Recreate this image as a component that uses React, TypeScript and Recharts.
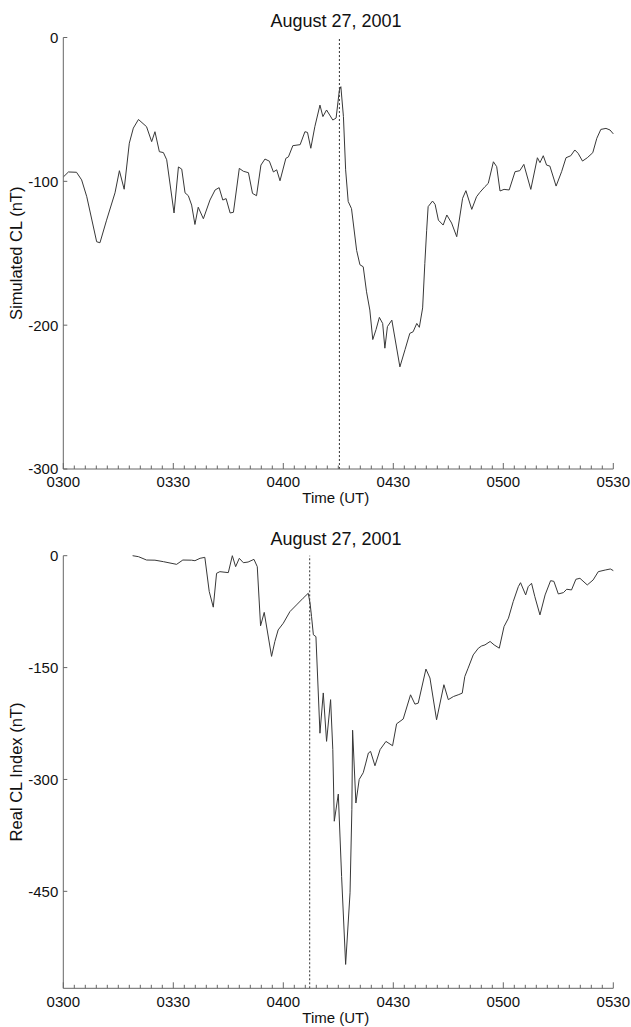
import React from "react";
import { LineChart, Line, XAxis, YAxis, ReferenceLine } from "recharts";

// time in minutes after 0300 UT
const simTime = [
  0, 1.4, 3.6, 5.0, 6.4, 9.1, 10.0, 11.8, 14.1, 15.3, 16.6, 18.0, 19.1, 20.5,
  22.7, 24.1, 25.0, 26.2, 27.3, 28.2, 30.2, 31.4, 32.3, 33.2, 34.1, 35.0, 35.9,
  36.8, 38.2, 40.0, 41.4, 42.5, 43.5, 44.4, 45.5, 46.4, 48.0, 49.1, 50.5, 51.6,
  52.7, 53.9, 55.0, 56.2, 57.3, 58.2, 59.1, 60.7, 61.4, 62.6, 64.6, 65.9, 66.6,
  67.5, 68.6, 70.0, 70.8, 71.8, 73.5, 74.4, 75.3, 75.7, 76.4, 77.0, 77.7, 78.6,
  80.0, 80.9, 81.8, 82.7, 83.6, 84.4, 85.3, 86.2, 87.1, 87.7, 88.4, 89.6, 91.8,
  93.2, 94.5, 95.4, 96.4, 97.1, 98.0, 98.6, 99.1, 99.5, 100.7, 101.4, 102.3,
  103.6, 104.6, 105.9, 107.3, 108.9, 109.8, 111.4, 112.7, 113.6, 115.0, 115.9,
  117.3, 118.2, 119.1, 120.2, 121.6, 123.2, 124.5, 125.6, 127.5, 129.3, 130.0,
  130.9, 131.8, 132.7, 134.4, 135.9, 137.1, 138.4, 139.5, 140.4, 141.6, 142.9,
  144.4, 145.5, 146.6, 148.0, 149.1, 150.0,
];
const simCL = [
  -97, -93.5, -93.7, -99, -110.7, -142, -142.7, -127, -108, -92.6, -105.5,
  -73.5, -63, -57, -62, -72.4, -65.5, -79.4, -80, -85, -122, -90, -91.5, -108,
  -110, -116.5, -130, -118, -126, -113, -106, -104.4, -113, -112, -122, -121.5,
  -91, -93, -94, -108.4, -110, -88.7, -84.5, -86, -93.5, -92, -99.6, -84, -83,
  -75.2, -74.5, -65.5, -66, -77, -62, -47, -55, -50.4, -57.4, -56, -36.5,
  -34.2, -55, -92, -114, -119, -148, -158, -159.4, -176.8, -189.5, -210, -203,
  -194.6, -198.8, -216, -201, -196.5, -229, -217, -205.7, -204.6, -198.8,
  -201.5, -188, -157, -134, -117.6, -113.7, -116, -127, -130.4, -123.4, -129,
  -138.5, -111.8, -106.5, -119.5, -110.7, -107.7, -103.7, -101.4, -86.4, -89.8,
  -106.7, -105.6, -106, -93.3, -92.6, -88.2, -105.6, -83.6, -87, -82.2, -88.7,
  -89.4, -103.3, -93.3, -83.6, -82.2, -78.2, -80.5, -85.9, -83.6, -80.1, -70.1,
  -63.9, -63.2, -64.3, -67,
];

const realTime = [
  18.9, 20.5, 22.7, 25.0, 27.3, 30.9, 32.6, 35.0, 35.9, 37.3, 38.6, 39.8, 40.9,
  41.8, 42.7, 45.0, 46.1, 47.0, 48.0, 49.1, 50.4, 52.0, 52.9, 53.8, 54.8, 56.8,
  57.7, 58.6, 60.0, 61.8, 63.6, 65.4, 66.8, 67.3, 67.7, 68.2, 68.9, 70.0, 70.9,
  71.8, 72.9, 73.5, 73.9, 75.0, 75.9, 77.0, 78.2, 78.7, 78.9, 79.8, 80.7, 81.8,
  82.5, 83.2, 83.8, 85.0, 86.4, 88.0, 89.8, 90.9, 92.7, 94.7, 95.9, 96.8, 98.9,
  100.0, 101.8, 103.8, 105.0, 106.4, 107.7, 108.8, 109.5, 110.4, 111.8, 113.2,
  114.1, 115.0, 116.4, 117.5, 118.9, 120.2, 121.4, 122.7, 124.1, 124.7, 126.1,
  126.8, 127.7, 128.6, 130.0, 131.4, 132.9, 133.8, 135.0, 136.4, 137.3, 138.6,
  139.8, 140.9, 142.9, 144.5, 145.9, 147.8, 149.2, 150.0,
];
const realCL = [
  0, -1.3, -5.8, -6, -8, -11.6, -5.8, -6, -6.7, -3.5, -2.2, -48, -69, -23.6,
  -21.4, -22.7, 0, -14.7, -3.5, -9.4, -8.5, -4.9, -14.7, -94, -76, -135, -115,
  -99.5, -90.5, -75, -66, -57, -50.4, -63.7, -81.6, -106, -108.5, -238, -184,
  -248.9, -193, -260, -356, -319.6, -430, -548, -452, -340, -234, -331.6, -300,
  -291, -278, -264.6, -262.4, -281.6, -260, -249, -254.8, -225.4, -219, -186.5,
  -199, -197.7, -152, -164, -220, -173, -193, -188.8, -186.5, -184.3, -162,
  -150.8, -133, -124, -121, -119.6, -115, -119.6, -124, -95, -83.8, -61.6,
  -41.5, -36.2, -52.6, -41.5, -37, -54.9, -79.4, -52.6, -33.5, -34.4, -51.3,
  -49.5, -45, -45.9, -31.6, -30.3, -39.2, -32.5, -21.4, -19.2, -17.8, -20,
];

const timeTicks = [0, 30, 60, 90, 120, 150];
const timeLabels = ["0300", "0330", "0400", "0430", "0500", "0530"];
const simTicks = [0, -100, -200, -300];
const realTicks = [0, -150, -300, -450];
const simOnset = 75.3;
const realOnset = 67.2;
const chartTitle = "August 27, 2001";

const minorTicks = Array.from({ length: 51 }, (_, i) => i * 3);

const FONT = "'Liberation Sans', Arial, sans-serif";
const AXIS = "#666";
const INK = "#111";

const XTick = (props: any) => {
  const { x, y, payload } = props;
  const i = timeTicks.indexOf(payload.value);
  const major = i >= 0;
  return (
    <g>
      <line x1={x} x2={x} y1={y} y2={y - (major ? 6 : 3.5)} stroke={AXIS} />
      {major && (
        <text x={x} y={y + 18.3} textAnchor="middle" fontSize={15} fill={INK} fontFamily={FONT}>
          {timeLabels[i]}
        </text>
      )}
    </g>
  );
};

const YTick = (props: any) => {
  const { x, y, payload } = props;
  return (
    <g>
      <line x1={x} x2={x + 4} y1={y} y2={y} stroke={AXIS} />
      <text x={x - 5} y={y} dy="0.36em" textAnchor="end" fontSize={15} fill={INK} fontFamily={FONT}>
        {payload.value}
      </text>
    </g>
  );
};

type PanelProps = {
  time: number[];
  values: number[];
  domain: [number, number];
  yTicks: number[];
  yLabel: string;
  onset: number;
  height: number;
  top: number;
  axisHeight: number;
};

const Panel = ({ time, values, domain, yTicks, yLabel, onset, height, top, axisHeight }: PanelProps) => {
  const data = time.map((t, i) => ({ t, v: values[i] }));
  return (
    <div style={{ position: "relative", width: 631, height }}>
      <svg width={631} height={40} style={{ position: "absolute", left: 0, top: 0 }}>
        <text x={336} y={top - 11} textAnchor="middle" fontSize={18} fill={INK} fontFamily={FONT}>
          {chartTitle}
        </text>
      </svg>
      <LineChart
        width={631}
        height={height}
        data={data}
        margin={{ top, right: 17.7, bottom: 0, left: 0 }}
      >
        <XAxis
          dataKey="t"
          type="number"
          domain={[0, 150]}
          ticks={minorTicks}
          interval={0}
          height={axisHeight}
          tickLine={false}
          tickSize={0}
          tickMargin={0}
          tick={<XTick />}
          stroke={AXIS}
          label={(p: any) => {
            const vb = p.viewBox;
            return (
              <text x={vb.x + vb.width / 2 - 2.5} y={vb.y + 34.3} textAnchor="middle" fontSize={15} fill={INK} fontFamily={FONT}>
                Time (UT)
              </text>
            );
          }}
        />
        <YAxis
          type="number"
          domain={domain}
          ticks={yTicks}
          interval={0}
          width={63.3}
          tickLine={false}
          tickSize={0}
          tickMargin={0}
          tick={<YTick />}
          stroke={AXIS}
          label={(p: any) => {
            const vb = p.viewBox;
            const cy = vb.y + vb.height / 2;
            return (
              <text
                x={16.5}
                y={cy}
                dy="0.36em"
                transform={`rotate(-90 16.5 ${cy})`}
                textAnchor="middle"
                fontSize={16.5}
                fill={INK}
                fontFamily={FONT}
              >
                {yLabel}
              </text>
            );
          }}
        />
        <ReferenceLine x={onset} stroke="#333" strokeDasharray="2 2" />
        <Line
          type="linear"
          dataKey="v"
          stroke="#383838"
          strokeWidth={1}
          dot={false}
          isAnimationActive={false}
        />
      </LineChart>
    </div>
  );
};

export default function App() {
  return (
    <div style={{ position: "absolute", left: 0, top: 0, width: 631, height: 1027, background: "#fff" }}>
      <Panel
        time={simTime}
        values={simCL}
        domain={[-300, 0]}
        yTicks={simTicks}
        yLabel="Simulated CL (nT)"
        onset={simOnset}
        height={514}
        top={37.5}
        axisHeight={45}
      />
      <Panel
        time={realTime}
        values={realCL}
        domain={[-580, 0]}
        yTicks={realTicks}
        yLabel="Real CL Index (nT)"
        onset={realOnset}
        height={513}
        top={41.7}
        axisHeight={38.7}
      />
    </div>
  );
}
